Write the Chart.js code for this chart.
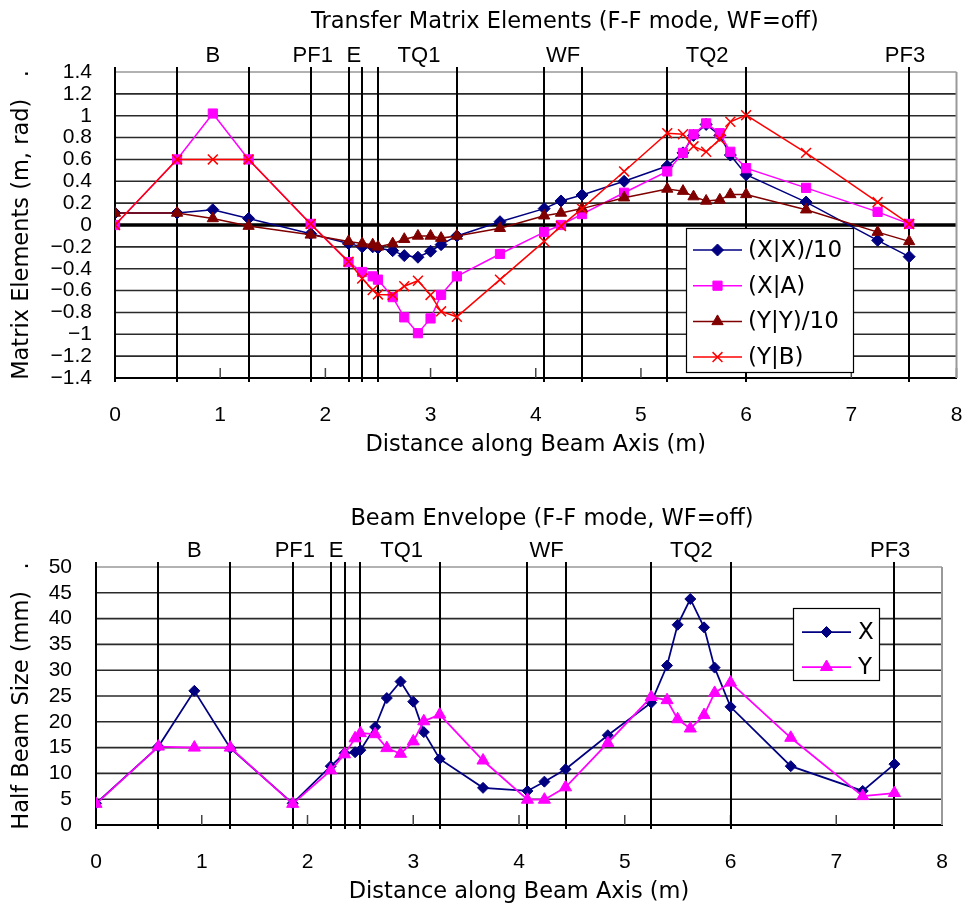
<!DOCTYPE html>
<html>
<head>
<meta charset="utf-8">
<script src="https://cdn.jsdelivr.net/npm/chart.js@4.4.1/dist/chart.umd.min.js"></script>
<style>
  html, body { margin: 0; padding: 0; background: #fff; overflow: hidden; }
  .panel { position: relative; width: 965px; }
  #top { height: 480px; }
  #bottom { height: 427px; }
</style>
</head>
<body>
<div class="panel" id="top"><canvas id="matrixChart"></canvas></div>
<div class="panel" id="bottom"><canvas id="envelopeChart"></canvas></div>
<script>
// points along the beam line (m), shared by every series
const positions = [0, 0.59, 0.93, 1.27, 1.86, 2.22, 2.35, 2.45, 2.50, 2.64, 2.75, 2.88, 3.00, 3.10, 3.25,
                   3.66, 4.08, 4.24, 4.44, 4.84, 5.25, 5.40, 5.50, 5.62, 5.75, 5.85, 6.00, 6.57, 7.25, 7.55];

// transfer matrix elements
const xxOver10 = [0.11, 0.11, 0.14, 0.06, -0.08, -0.17, -0.20, -0.20, -0.21, -0.235, -0.28, -0.295, -0.24, -0.18, -0.10,
                  0.03, 0.15, 0.22, 0.275, 0.40, 0.54, 0.66, 0.82, 0.92, 0.82, 0.64, 0.46, 0.21, -0.14, -0.29];
const xa = [0, 0.60, 1.02, 0.60, 0.01, -0.34, -0.43, -0.47, -0.50, -0.66, -0.845, -0.99, -0.855, -0.64, -0.47,
            -0.265, -0.065, 0.0, 0.10, 0.295, 0.49, 0.66, 0.83, 0.93, 0.84, 0.67, 0.52, 0.34, 0.12, 0.01];
const yyOver10 = [0.11, 0.11, 0.06, -0.01, -0.09, -0.15, -0.17, -0.18, -0.20, -0.17, -0.13, -0.10, -0.10, -0.12, -0.10,
                  -0.03, 0.085, 0.11, 0.15, 0.25, 0.33, 0.31, 0.26, 0.22, 0.23, 0.28, 0.28, 0.14, -0.065, -0.15];
const yb = [0, 0.60, 0.60, 0.60, 0.01, -0.335, -0.49, -0.595, -0.635, -0.64, -0.56, -0.51, -0.64, -0.79, -0.84,
            -0.50, -0.15, -0.01, 0.15, 0.49, 0.84, 0.83, 0.72, 0.67, 0.785, 0.945, 1.005, 0.66, 0.21, 0.01];

// half beam size (mm)
const envelopeX = [4.2, 15.2, 26.0, 14.9, 4.2, 11.4, 13.9, 14.1, 14.5, 19.0, 24.6, 27.8, 23.9, 18.0, 12.8,
                   7.2, 6.6, 8.4, 10.8, 17.4, 23.7, 30.9, 38.8, 43.8, 38.3, 30.5, 22.9, 11.4, 6.6, 11.8];
const envelopeY = [4.1, 15.2, 15.0, 15.0, 4.1, 10.6, 13.7, 16.8, 17.8, 17.6, 14.9, 13.8, 16.2, 20.1, 21.4,
                   12.5, 4.9, 4.9, 7.3, 15.9, 24.8, 24.2, 20.5, 18.7, 21.3, 25.6, 27.6, 16.9, 5.6, 6.2];

// beam line elements
const componentNames = ['B', 'PF1', 'E', 'TQ1', 'WF', 'TQ2', 'PF3'];
const componentCentres = [0.93, 1.88, 2.27, 2.89, 4.26, 5.63, 7.51];
const componentEdges = [0, 0.59, 1.27, 1.86, 2.22, 2.35, 2.50, 3.25, 4.08, 4.44, 5.25, 6.00, 7.55];

const gothic = "'DejaVu Sans', sans-serif";
const arial = "'Liberation Sans', Arial, sans-serif";

Chart.defaults.color = '#000';

// gridlines, element boundary lines, element names and chart title
const beamline = {
  id: 'beamline',
  beforeDatasetsDraw(chart, args, opts) {
    const {ctx, chartArea: {left, top, bottom, right}, scales: {x, y}} = chart;
    ctx.save();
    // horizontal gridlines
    y.ticks.forEach((t, i) => {
      const py = y.getPixelForValue(t.value);
      const isZero = opts.zeroLine && Math.abs(t.value) < 1e-9;
      if (i === 0 && !isZero) return;
      ctx.strokeStyle = i === y.ticks.length - 1 ? '#999' : (isZero ? '#000' : '#2a2a2a');
      ctx.lineWidth = isZero ? 3.5 : 1.6;
      ctx.beginPath(); ctx.moveTo(left, py); ctx.lineTo(right, py); ctx.stroke();
    });
    // small inside ticks at each metre
    ctx.strokeStyle = '#444';
    ctx.lineWidth = 1.5;
    x.ticks.forEach(t => {
      const px = x.getPixelForValue(t.value);
      ctx.beginPath(); ctx.moveTo(px, bottom); ctx.lineTo(px, bottom - 10); ctx.stroke();
    });
    // right frame
    ctx.strokeStyle = '#999';
    ctx.lineWidth = 2;
    ctx.beginPath(); ctx.moveTo(right, top); ctx.lineTo(right, bottom); ctx.stroke();
    // element edges
    ctx.strokeStyle = '#000';
    ctx.lineWidth = 2;
    componentEdges.forEach(v => {
      const px = Math.round(x.getPixelForValue(v));
      ctx.beginPath(); ctx.moveTo(px, top - 5); ctx.lineTo(px, bottom + 4); ctx.stroke();
    });
    ctx.restore();
  },
  afterDraw(chart, args, opts) {
    const {ctx, scales: {x}} = chart;
    ctx.save();
    ctx.fillStyle = '#000';
    ctx.textAlign = 'center';
    ctx.textBaseline = 'alphabetic';
    ctx.font = '22.5px ' + gothic;
    ctx.fillText(opts.title, opts.titleX, opts.titleY);
    ctx.font = '22px ' + arial;
    componentNames.forEach((name, i) => {
      ctx.fillText(name, x.getPixelForValue(componentCentres[i]), opts.namesY);
    });
    ctx.restore();
  }
};

// boxed legend placed inside the plot like the original
const boxLegend = {
  id: 'boxLegend',
  afterDraw(chart, args, opts) {
    const {ctx} = chart;
    const {left, top, width, height, firstRow, rowHeight, lineFrom, lineTo, textAt} = opts;
    ctx.save();
    ctx.fillStyle = '#fff';
    ctx.fillRect(left, top, width, height);
    ctx.strokeStyle = '#000';
    ctx.lineWidth = 1.2;
    ctx.strokeRect(left + 0.5, top + 0.5, width, height);
    chart.data.datasets.forEach((ds, i) => {
      const y = top + firstRow + i * rowHeight;
      ctx.strokeStyle = ds.borderColor;
      ctx.lineWidth = ds.borderWidth;
      ctx.beginPath(); ctx.moveTo(left + lineFrom, y); ctx.lineTo(left + lineTo, y); ctx.stroke();
      ctx.fillStyle = ds.pointBackgroundColor;
      ctx.strokeStyle = ds.pointBorderColor;
      ctx.lineWidth = ds.pointBorderWidth;
      Chart.helpers.drawPoint(ctx, {
        pointStyle: ds.pointStyle, radius: ds.pointRadius, rotation: 0, borderWidth: ds.pointBorderWidth
      }, left + (lineFrom + lineTo) / 2, y);
      ctx.fillStyle = '#000';
      ctx.font = '23px ' + gothic;
      ctx.textAlign = 'left';
      ctx.textBaseline = 'middle';
      ctx.fillText(ds.label, left + textAt, y + 1);
    });
    ctx.restore();
  }
};

function series(label, values, color, style, radius, lineWidth, markerLine, order) {
  return {
    label: label,
    data: positions.map((x, i) => ({x: x, y: values[i]})),
    borderColor: color,
    borderWidth: lineWidth,
    pointStyle: style,
    pointRadius: radius,
    pointBackgroundColor: color,
    pointBorderColor: color,
    pointBorderWidth: markerLine,
    tension: 0,
    order: order
  };
}

function formatTick(v) {
  return String(Math.round(v * 10) / 10).replace('-', '\u2212');
}

new Chart(document.getElementById('matrixChart'), {
  type: 'line',
  data: {
    datasets: [
      series('(X|X)/10', xxOver10, '#000080', 'rectRot', 6, 1.5, 1, 4),
      series('(X|A)', xa, '#ff00ff', 'rect', 6.5, 1.5, 1, 3),
      series('(Y|Y)/10', yyOver10, '#800000', 'triangle', 6.5, 1.5, 1, 2),
      series('(Y|B)', yb, '#ff0000', 'crossRot', 7, 1.5, 1.5, 1)
    ]
  },
  plugins: [beamline, boxLegend],
  options: {
    animation: false,
    responsive: true,
    maintainAspectRatio: false,
    layout: {padding: {top: 72, right: 7, left: 0, bottom: 0}},
    plugins: {
      legend: {display: false},
      tooltip: {enabled: false},
      beamline: {title: 'Transfer Matrix Elements (F-F mode, WF=off)', titleX: 565, titleY: 28, namesY: 62,
                 zeroLine: true},
      boxLegend: {left: 686, top: 228, width: 167, height: 144, firstRow: 22, rowHeight: 35.7,
                  lineFrom: 7, lineTo: 56, textAt: 62}
    },
    scales: {
      x: {
        type: 'linear', min: 0, max: 8,
        ticks: {stepSize: 1, autoSkip: false, padding: 25, font: {family: arial, size: 21}},
        grid: {display: false, drawTicks: false},
        border: {color: '#000', width: 2},
        title: {display: true, text: 'Distance along Beam Axis (m)', font: {family: gothic, size: 22.5},
                padding: {top: 0, bottom: 21}},
        afterFit(s) { s.height = 102; s.paddingLeft = 0; s.paddingRight = 0; }
      },
      y: {
        min: -1.4, max: 1.4,
        ticks: {stepSize: 0.2, autoSkip: false, padding: 23, font: {family: arial, size: 21}, callback: formatTick},
        grid: {display: false, drawTicks: false},
        border: {color: '#000', width: 2},
        title: {display: true, text: 'Matrix Elements (m, rad)   .', font: {family: gothic, size: 22.5},
                padding: {top: 9, bottom: 0}},
        afterFit(s) { s.width = 115; s.paddingTop = 0; s.paddingBottom = 0; }
      }
    }
  }
});

new Chart(document.getElementById('envelopeChart'), {
  type: 'line',
  data: {
    datasets: [
      series('X', envelopeX, '#000080', 'rectRot', 5.5, 1.75, 1, 2),
      series('Y', envelopeY, '#ff00ff', 'triangle', 7, 1.75, 1, 1)
    ]
  },
  plugins: [beamline, boxLegend],
  options: {
    animation: false,
    responsive: true,
    maintainAspectRatio: false,
    layout: {padding: {top: 87, right: 23, left: 0, bottom: 0}},
    plugins: {
      legend: {display: false},
      tooltip: {enabled: false},
      beamline: {title: 'Beam Envelope (F-F mode, WF=off)', titleX: 552, titleY: 45, namesY: 77,
                 zeroLine: false},
      boxLegend: {left: 793, top: 128, width: 86, height: 72, firstRow: 24, rowHeight: 35,
                  lineFrom: 9, lineTo: 58, textAt: 65}
    },
    scales: {
      x: {
        type: 'linear', min: 0, max: 8,
        ticks: {stepSize: 1, autoSkip: false, padding: 25, font: {family: arial, size: 21}},
        grid: {display: false, drawTicks: false},
        border: {color: '#000', width: 2},
        title: {display: true, text: 'Distance along Beam Axis (m)', font: {family: gothic, size: 22.5},
                padding: {top: 0, bottom: 1}},
        afterFit(s) { s.height = 82; s.paddingLeft = 0; s.paddingRight = 0; }
      },
      y: {
        min: 0, max: 50,
        ticks: {stepSize: 5, autoSkip: false, padding: 24, font: {family: arial, size: 21}},
        grid: {display: false, drawTicks: false},
        border: {color: '#000', width: 2},
        title: {display: true, text: 'Half Beam Size (mm)   .', font: {family: gothic, size: 22.5},
                padding: {top: 9, bottom: 0}},
        afterFit(s) { s.width = 96; s.paddingTop = 0; s.paddingBottom = 0; }
      }
    }
  }
});
</script>
</body>
</html>
